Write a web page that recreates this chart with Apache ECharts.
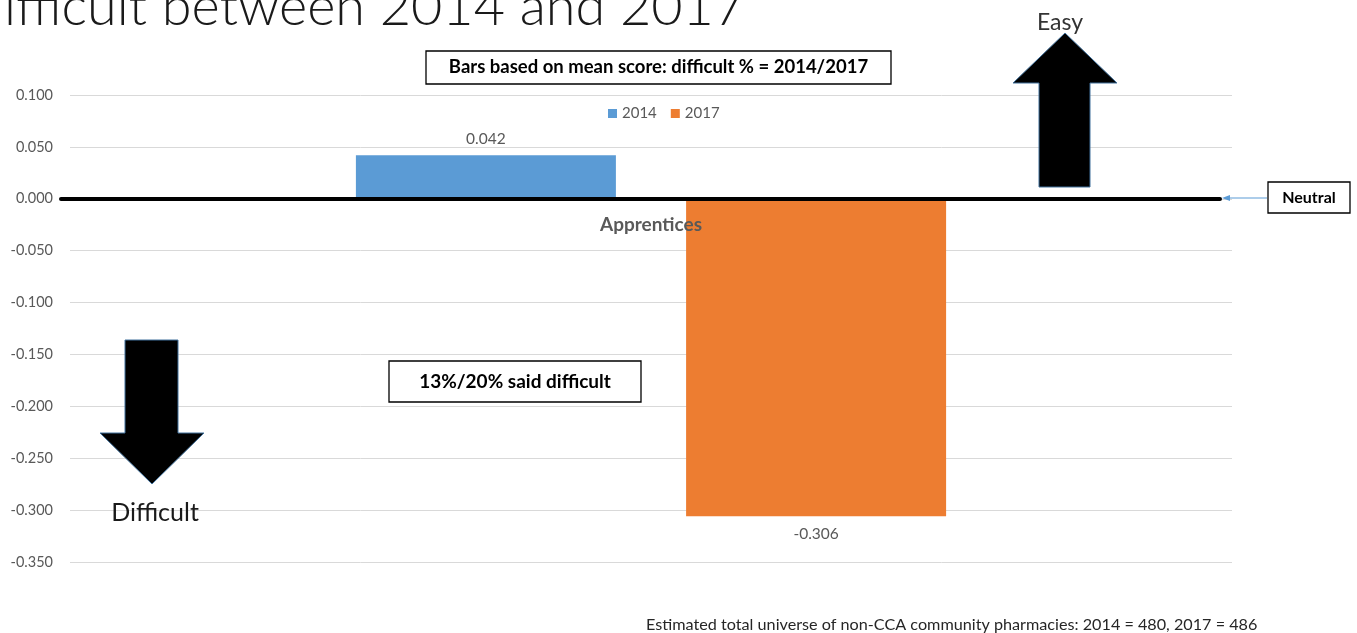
<!DOCTYPE html>
<html>
<head>
<meta charset="utf-8">
<script src="https://cdn.jsdelivr.net/npm/echarts@6/dist/echarts.min.js"></script>
<style>
html,body{margin:0;padding:0;background:#fff;}
#main{width:1357px;height:633px;}
</style>
</head>
<body>
<div id="main"></div>
<script>
// ---- data ----
var categories = ['Apprentices'];
var seriesNames = ['2014', '2017'];
var values2014 = [0.042];
var values2017 = [-0.306];
var yMin = -0.35, yMax = 0.1, yInterval = 0.05;

var titleText = 'ifficult between 2014 and 2017';
var noteBars = 'Bars based on mean score: difficult % = 2014/2017';
var noteSaid = '13%/20% said difficult';
var noteNeutral = 'Neutral';
var labelEasy = 'Easy';
var labelDifficult = 'Difficult';
var footnote = 'Estimated total universe of non-CCA community pharmacies: 2014 = 480, 2017 = 486';

var FONT = 'Lato, "Liberation Sans", sans-serif';
var GRAY = '#595959';

function barData(arr) {
  return arr.map(function (v) {
    return {
      value: v,
      label: v >= 0 ? { position: 'top', distance: 8 } : { position: 'bottom', distance: 10 }
    };
  });
}

var chart = echarts.init(document.getElementById('main'), null, { renderer: 'canvas' });

function box(x, y, w, h, text, fs) {
  return {
    type: 'group', x: x, y: y, z: 20,
    children: [
      { type: 'rect', shape: { x: 0, y: 0, width: w, height: h },
        style: { fill: '#fff', stroke: '#000', lineWidth: 1.3 } },
      { type: 'text', x: w / 2, y: h / 2,
        style: { text: text, fill: '#000', font: 'bold ' + fs + 'px ' + FONT,
                 align: 'center', verticalAlign: 'middle' } }
    ]
  };
}

var option = {
  backgroundColor: '#fff',
  animation: false,
  legend: {
    data: seriesNames,
    left: 603, top: 101,
    icon: 'rect', itemWidth: 9, itemHeight: 9, itemGap: 14,
    textStyle: { color: GRAY, fontSize: 15, fontFamily: FONT }
  },
  grid: [
    { left: 70, right: 125, top: 95, bottom: 71 },
    { left: 61, right: 137, top: 95, bottom: 71 }
  ],
  xAxis: [
    {
      type: 'category', gridIndex: 0, data: categories, z: 10,
      axisLine: { show: false, onZero: false },
      axisTick: { show: false },
      axisLabel: { color: GRAY, fontSize: 19, fontWeight: 'bold', fontFamily: FONT, margin: 17 },
      splitLine: { show: false }
    },
    {
      type: 'category', gridIndex: 1, data: categories, z: 10,
      axisLine: { show: true, onZero: true, lineStyle: { color: '#000', width: 4 } },
      axisTick: { show: false },
      axisLabel: { show: false },
      splitLine: { show: false }
    }
  ],
  yAxis: [
    {
      type: 'value', gridIndex: 0, min: yMin, max: yMax, interval: yInterval,
      axisLine: { show: false }, axisTick: { show: false },
      axisLabel: { color: GRAY, fontSize: 14.5, fontFamily: FONT, margin: 17,
                   formatter: function (v) { return v.toFixed(3); } },
      splitLine: { lineStyle: { color: '#D9D9D9', width: 1 } }
    },
    {
      type: 'value', gridIndex: 1, min: yMin, max: yMax, interval: yInterval,
      axisLine: { show: false }, axisTick: { show: false },
      axisLabel: { show: false }, splitLine: { show: false }
    }
  ],
  series: [
    {
      name: seriesNames[0], type: 'bar', xAxisIndex: 0, yAxisIndex: 0,
      data: barData(values2014), barWidth: 260, barGap: '27%',
      itemStyle: { color: '#5B9BD5' },
      label: { show: true, color: GRAY, fontSize: 15.5, fontFamily: FONT,
               formatter: function (p) { return p.value.toFixed(3); } }
    },
    {
      name: seriesNames[1], type: 'bar', xAxisIndex: 0, yAxisIndex: 0,
      data: barData(values2017), barWidth: 260, barGap: '27%',
      itemStyle: { color: '#ED7D31' },
      label: { show: true, color: GRAY, fontSize: 15.5, fontFamily: FONT,
               formatter: function (p) { return p.value.toFixed(3); } }
    }
  ],
  graphic: [
    { type: 'text', x: 4, y: 35, z: 20,
      style: { text: titleText, fill: '#1a1a1a', font: '300 54px ' + FONT, align: 'left', verticalAlign: 'bottom' } },
    box(426, 51, 465, 33, noteBars, 18.5),
    box(389, 361, 252, 41, noteSaid, 19),
    box(1268, 182, 82, 31, noteNeutral, 16),
    // neutral pointer
    { type: 'line', z: 20, shape: { x1: 1267, y1: 198, x2: 1226, y2: 198 },
      style: { stroke: '#5B9BD5', lineWidth: 1 } },
    { type: 'polygon', z: 20, shape: { points: [[1222, 198], [1230, 195], [1230, 201]] },
      style: { fill: '#5B9BD5' } },
    // up arrow (Easy)
    { type: 'polygon', z: 15,
      shape: { points: [[1065, 33], [1117, 83], [1090, 83], [1090, 187], [1039, 187], [1039, 83], [1013, 83]] },
      style: { fill: '#000', stroke: '#41719C', lineWidth: 1 } },
    { type: 'text', x: 1060, y: 23, z: 16,
      style: { text: labelEasy, fill: '#333', font: '23px ' + FONT, align: 'center', verticalAlign: 'middle' } },
    // down arrow (Difficult)
    { type: 'polygon', z: 15,
      shape: { points: [[125, 340], [178, 340], [178, 433], [204, 433], [152, 484], [100, 433], [125, 433]] },
      style: { fill: '#000', stroke: '#41719C', lineWidth: 1 } },
    { type: 'text', x: 155, y: 513, z: 16,
      style: { text: labelDifficult, fill: '#1a1a1a', font: '25px ' + FONT, align: 'center', verticalAlign: 'middle' } },
    // footnote
    { type: 'text', x: 646, y: 625, z: 16,
      style: { text: footnote, fill: '#262626', font: '16.2px ' + FONT, align: 'left', verticalAlign: 'middle' } }
  ]
};
chart.setOption(option);

// place the category label just below the zero line (derived from the y scale)
var yZero = chart.convertToPixel({ yAxisIndex: 0 }, 0);
var yBottom = chart.convertToPixel({ yAxisIndex: 0 }, yMin);
chart.setOption({ xAxis: [{ offset: -(yBottom - yZero) }, {}] });
</script>
</body>
</html>
